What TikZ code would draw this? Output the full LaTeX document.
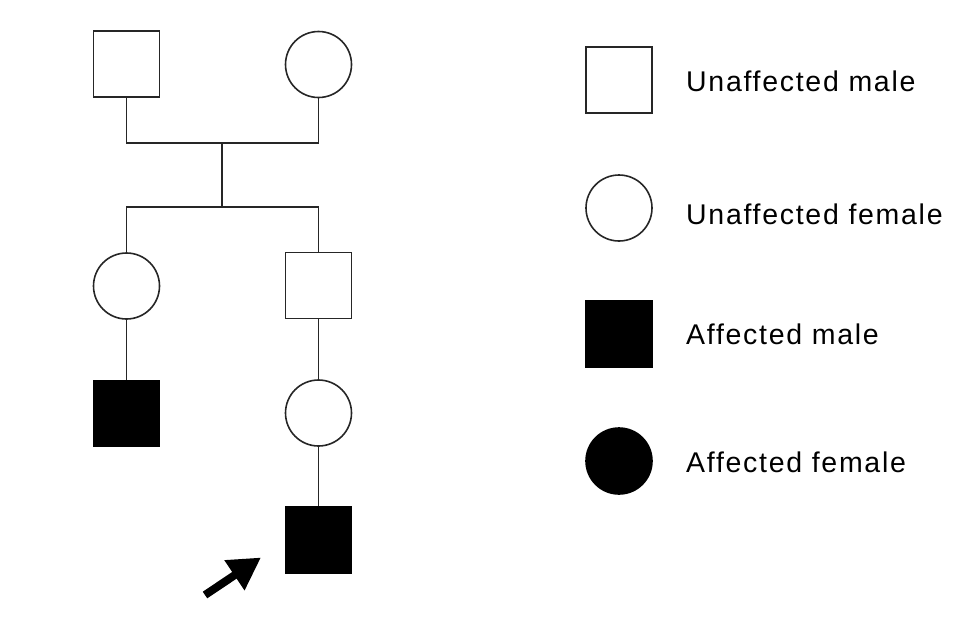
\documentclass[tikz,border=0pt]{standalone}
\usepackage{fontspec}
\setmainfont{Liberation Sans}[LetterSpace=6]
\usetikzlibrary{arrows.meta}
\begin{document}
\begin{tikzpicture}[x=1pt,y=-1pt,
  male/.style={draw=black!85,line width=1.6pt,rectangle,minimum size=66pt,inner sep=0pt},
  female/.style={draw=black!85,line width=1.6pt,circle,minimum size=66pt,inner sep=0pt},
  affected/.style={fill=black,draw=black},
  link/.style={draw=black!85,line width=1.6pt},
  legtext/.style={anchor=base west,inner sep=0pt,font=\fontsize{28.5}{34}\selectfont}]
\useasboundingbox (0,0) rectangle (976,624);
% pedigree
\node[male] (f1) at (126.5,64) {};
\node[female] (m1) at (318.5,64.5) {};
\node[female] (d1) at (126.5,286) {};
\node[male] (s1) at (318.5,285.5) {};
\node[male,affected] (g1) at (126.5,413.5) {};
\node[female] (w1) at (318.5,413) {};
\node[male,affected] (p1) at (318.5,540) {};
\coordinate (c1) at (222,143);
\coordinate (c2) at (222,207);
\draw[link] (f1.south) |- (c1) -| (m1.south);
\draw[link] (c1) -- (c2);
\draw[link] (d1.north) |- (c2) -| (s1.north);
\draw[link] (d1.south) -- (g1.north);
\draw[link] (s1.south) -- (w1.north);
\draw[link] (w1.south) -- (p1.north);
% proband arrow
\coordinate (at) at (205,595);
\coordinate (ah) at (261,557.5);
\draw[line width=8pt,-{Triangle[length=32pt,width=34pt]}] (at) -- (ah);
% legend
\node[male] (l1) at (619,80) {};
\node[female] (l2) at (619,208) {};
\node[male,affected] (l3) at (619,334) {};
\node[female,affected] (l4) at (619,461) {};
\node[legtext] (t1) at (686,91.7) {Unaffected male};
\node[legtext] (t2) at (686,224.3) {Unaffected female};
\node[legtext] (t3) at (686,344.3) {Affected male};
\node[legtext] (t4) at (686,472.7) {Affected female};
\end{tikzpicture}
\end{document}
